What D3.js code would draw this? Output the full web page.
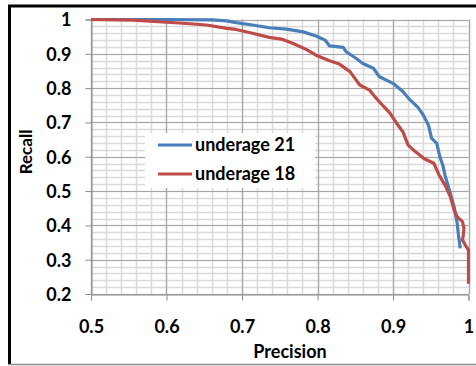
<!DOCTYPE html>
<html>
<head>
<meta charset="utf-8">
<script src="https://cdn.jsdelivr.net/npm/d3@7"></script>
<style>
  body { margin: 0; background: #fff; }
  svg { display: block; font-family: Lato, "Open Sans", sans-serif; font-weight: bold; }
</style>
</head>
<body>
<div id="chart"></div>
<script>
// values
const seriesNames = ["underage 21", "underage 18"];
const precision21 = [0.5, 0.6, 0.66, 0.68, 0.692, 0.714, 0.736, 0.759, 0.781, 0.798, 0.81, 0.816, 0.834, 0.838, 0.851, 0.860, 0.874, 0.882, 0.900, 0.913, 0.922, 0.933, 0.940, 0.947, 0.951, 0.958, 0.962, 0.966, 0.969, 0.976, 0.981, 0.985, 0.987, 0.989];
const recall21 = [1, 1, 0.999, 0.996, 0.991, 0.984, 0.976, 0.972, 0.964, 0.952, 0.94, 0.923, 0.919, 0.906, 0.887, 0.872, 0.858, 0.833, 0.814, 0.790, 0.767, 0.744, 0.722, 0.692, 0.654, 0.639, 0.600, 0.575, 0.545, 0.493, 0.454, 0.406, 0.367, 0.333];
const precision18 = [0.5, 0.556, 0.6, 0.622, 0.653, 0.68, 0.692, 0.714, 0.736, 0.754, 0.767, 0.785, 0.798, 0.816, 0.829, 0.843, 0.851, 0.856, 0.869, 0.878, 0.887, 0.896, 0.905, 0.913, 0.920, 0.927, 0.941, 0.954, 0.961, 0.970, 0.976, 0.981, 0.985, 0.992, 0.994, 0.993, 0.992, 0.996, 1.0, 1.0, 1.0];
const recall18 = [1, 0.998, 0.992, 0.989, 0.984, 0.974, 0.971, 0.960, 0.948, 0.942, 0.931, 0.913, 0.896, 0.880, 0.870, 0.848, 0.824, 0.809, 0.794, 0.770, 0.748, 0.727, 0.697, 0.673, 0.634, 0.620, 0.595, 0.581, 0.547, 0.513, 0.483, 0.445, 0.425, 0.411, 0.391, 0.370, 0.357, 0.342, 0.328, 0.28, 0.23];
const xTicks = [0.5, 0.6, 0.7, 0.8, 0.9, 1];
const yTicks = [0.2, 0.3, 0.4, 0.5, 0.6, 0.7, 0.8, 0.9, 1];

const width = 476, height = 366;
const colors = ["#4a7ebb", "#be4b48"];

const svg = d3.select("#chart").append("svg")
    .attr("width", width)
    .attr("height", height);

// outer frame
svg.append("rect").attr("x", 0).attr("y", 0).attr("width", width).attr("height", height).attr("fill", "#fff");
svg.append("line").attr("x1", 8).attr("x2", width).attr("y1", 6).attr("y2", 6)
    .attr("stroke", "#000").attr("stroke-width", 3);
svg.append("line").attr("x1", 9.5).attr("x2", 9.5).attr("y1", 5).attr("y2", 365)
    .attr("stroke", "#000").attr("stroke-width", 3);
svg.append("line").attr("x1", 8).attr("x2", width).attr("y1", 364.5).attr("y2", 364.5)
    .attr("stroke", "#8c8c8c").attr("stroke-width", 1.5);

const x = d3.scaleLinear().domain([0.5, 1]).range([91, 468.5]);
const y = d3.scaleLinear().domain([0.2, 1]).range([294, 19.5]);

// minor grid
const minor = d3.range(0.5, 1.0001, 0.02);
const minorY = d3.range(0.2, 1.0001, 0.02);
const grid = svg.append("g");
grid.selectAll(".mx").data(minor).enter().append("line")
    .attr("x1", d => Math.round(x(d)) + 0.5).attr("x2", d => Math.round(x(d)) + 0.5)
    .attr("y1", y(1)).attr("y2", y(0.2))
    .attr("stroke", "#d9d9d9").attr("stroke-width", 1.5);
grid.selectAll(".my").data(minorY).enter().append("line")
    .attr("x1", x(0.5)).attr("x2", x(1))
    .attr("y1", d => Math.round(y(d)) + 0.5).attr("y2", d => Math.round(y(d)) + 0.5)
    .attr("stroke", "#d9d9d9").attr("stroke-width", 1.5);
// major grid
grid.selectAll(".Mx").data(xTicks).enter().append("line")
    .attr("x1", d => Math.round(x(d)) + 0.5).attr("x2", d => Math.round(x(d)) + 0.5)
    .attr("y1", y(1)).attr("y2", y(0.2))
    .attr("stroke", "#a6a6a6").attr("stroke-width", 1.2);
grid.selectAll(".My").data(yTicks).enter().append("line")
    .attr("x1", x(0.5)).attr("x2", x(1))
    .attr("y1", d => Math.round(y(d)) + 0.5).attr("y2", d => Math.round(y(d)) + 0.5)
    .attr("stroke", "#a6a6a6").attr("stroke-width", 1.2);

// axes
const xAxis = svg.append("g")
    .attr("transform", `translate(0,${Math.round(y(0.2)) + 0.5})`)
    .call(d3.axisBottom(x).tickValues(xTicks).tickSize(6).tickPadding(20).tickFormat(d3.format("")));
const yAxis = svg.append("g")
    .attr("transform", `translate(${Math.round(x(0.5)) + 0.5},0)`)
    .call(d3.axisLeft(y).tickValues(yTicks).tickSize(6).tickPadding(14).tickFormat(d3.format("")));
[xAxis, yAxis].forEach(a => {
    a.select(".domain").attr("stroke", "#8c8c8c");
    a.selectAll(".tick line").attr("stroke", "#8c8c8c");
    a.selectAll(".tick text").attr("fill", "#000")
        .style("font-family", "Lato, sans-serif").style("font-weight", "bold").style("font-size", "18px");
});
yAxis.selectAll(".tick text").attr("dy", "0.36em");

// series
const line = d3.line().x(d => x(d[0])).y(d => y(d[1]));
const series = [
    d3.zip(precision21, recall21),
    d3.zip(precision18, recall18)
];
svg.selectAll(".series").data(series).enter().append("path")
    .attr("d", line)
    .attr("fill", "none")
    .attr("stroke", (d, i) => colors[i])
    .attr("stroke-width", 3.2)
    .attr("stroke-linejoin", "round");

// axis titles
svg.append("text").attr("x", 290).attr("y", 358)
    .attr("text-anchor", "middle").style("font-size", "18px").text("Precision");
svg.append("text").attr("transform", "translate(32,152) rotate(-90)")
    .attr("text-anchor", "middle").style("font-size", "17px").text("Recall");

// legend
const legend = svg.append("g");
legend.append("rect").attr("x", 145).attr("y", 133).attr("width", 170).attr("height", 55).attr("fill", "#fff");
const items = legend.selectAll(".item").data(seriesNames).enter().append("g")
    .attr("transform", (d, i) => `translate(0,${145 + i * 29})`);
items.append("line").attr("x1", 158).attr("x2", 192).attr("y1", 0).attr("y2", 0)
    .attr("stroke", (d, i) => colors[i]).attr("stroke-width", 3);
items.append("text").attr("x", 195).attr("y", 0).attr("dy", "0.35em")
    .style("font-size", "18px").text(d => d);
</script>
</body>
</html>
